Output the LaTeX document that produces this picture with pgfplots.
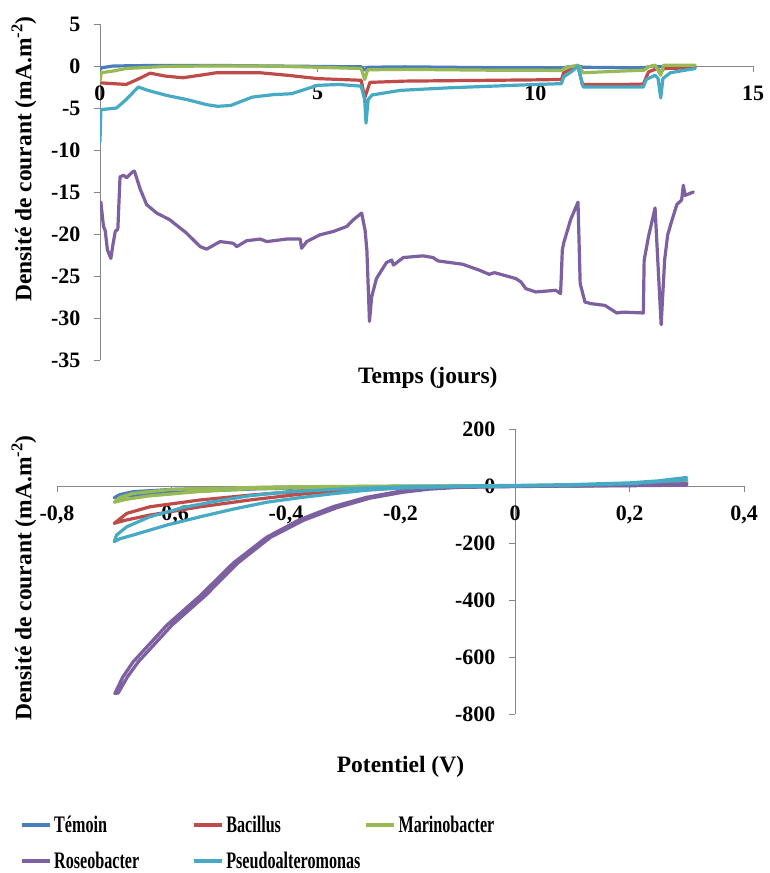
\documentclass[border=0pt]{standalone}
\usepackage{fontspec}
\setmainfont{Liberation Serif}
\newfontfamily\legfont{Liberation Serif}[FakeStretch=0.68]
\usepackage{pgfplots}
\pgfplotsset{compat=1.18}
\definecolor{cT}{HTML}{4A7EBB}
\definecolor{cB}{HTML}{BE4B48}
\definecolor{cM}{HTML}{98B954}
\definecolor{cR}{HTML}{7D60A0}
\definecolor{cP}{HTML}{46AAC5}
\definecolor{axgray}{HTML}{868686}
\pgfplotsset{
  common/.style={
    scale only axis, enlargelimits=false,
    axis lines=middle, axis line style={-,draw=axgray,line width=0.9pt},
    tick align=outside, major tick length=6pt,
    tick style={draw=axgray,line width=0.9pt},
    minor tick num=0,
    hide obscured x ticks=false, hide obscured y ticks=false,
    tick label style={font=\bfseries\fontsize{22}{24}\selectfont},
    xticklabel style={yshift=-10pt},
    yticklabel style={xshift=-10pt},
    /pgf/number format/assume math mode=true,
    /pgf/number format/use comma,
  },
  ln/.style={line width=3.2pt, line join=round, line cap=round},
}
\begin{document}
\begin{tikzpicture}
\useasboundingbox (0pt,0pt) rectangle (769pt,-873pt);
% ---------- top chart ----------
\begin{axis}[common,
  at={(100pt,-360pt)}, anchor=south west, width=653pt, height=336pt,
  xmin=0, xmax=15, ymin=-35, ymax=5,
  xtick={0,5,10,15}, ytick={-35,-30,-25,-20,-15,-10,-5,0,5},
  xlabel={Temps (jours)},
  ylabel={Densité de courant (mA.m\textsuperscript{-2})},
  every axis x label/.style={at={(axis description cs:0.502,0)},anchor=base,yshift=-23pt,font=\bfseries\fontsize{23.5}{26}\selectfont},
  every axis y label/.style={at={(axis description cs:-0.1164,0.598)},rotate=90,anchor=center,font=\bfseries\fontsize{23.5}{26}\selectfont},
]
\addplot[ln,cT] coordinates {(0,-0.4) (0.05,-0.2) (0.3,0) (1,0.05) (2,0.05) (3,0.05) (4,0) (5,-0.05) (6.0,-0.1) (6.08,-0.5) (6.15,-0.15) (7,-0.1) (8,-0.15) (9,-0.2) (10,-0.2) (10.6,-0.25) (10.75,-0.1) (10.98,0) (11.1,-0.15) (12,-0.2) (12.5,-0.2) (12.7,0) (12.88,-0.1) (12.95,0) (13.67,0)};
\addplot[ln,cB] coordinates {(0,-2.0) (0.3,-2.1) (0.6,-2.2) (0.9,-1.5) (1.15,-0.85) (1.5,-1.2) (1.9,-1.4) (2.3,-1.1) (2.68,-0.8) (3.67,-0.8) (4.3,-1.1) (5.0,-1.5) (6.0,-1.7) (6.08,-3.8) (6.2,-1.95) (7,-1.8) (8,-1.75) (9,-1.7) (10,-1.65) (10.6,-1.6) (10.65,-0.8) (10.98,0) (11.08,-2.2) (12,-2.2) (12.48,-2.15) (12.6,-0.7) (12.8,-0.3) (12.88,-0.8) (12.95,-0.3) (13.67,-0.2)};
\addplot[ln,cM] coordinates {(0,-1.8) (0.03,-0.8) (0.3,-0.6) (0.6,-0.3) (1.5,-0.05) (2.5,0) (3.8,0) (5,-0.15) (6.0,-0.3) (6.08,-1.6) (6.15,-0.45) (7,-0.4) (8,-0.45) (9,-0.5) (10,-0.5) (10.6,-0.55) (10.7,-0.2) (10.98,0.1) (11.1,-0.8) (12,-0.6) (12.5,-0.5) (12.6,-0.1) (12.75,0.1) (12.88,-1.1) (12.95,0.1) (13.67,0.1)};
\addplot[ln,cR] coordinates {(0.02,-16.2) (0.08,-19.1) (0.12,-19.6) (0.17,-21.9) (0.25,-22.9) (0.29,-21.5) (0.35,-19.7) (0.41,-19.4) (0.46,-13.2) (0.54,-13.0) (0.61,-13.3) (0.75,-12.6) (0.79,-12.5) (0.92,-14.6) (1.07,-16.5) (1.3,-17.5) (1.6,-18.3) (1.99,-19.9) (2.3,-21.5) (2.45,-21.8) (2.76,-20.9) (3.06,-21.1) (3.14,-21.5) (3.37,-20.8) (3.68,-20.6) (3.83,-20.9) (4.29,-20.6) (4.6,-20.6) (4.63,-21.7) (4.75,-20.9) (5.05,-20.1) (5.36,-19.7) (5.67,-19.1) (5.82,-18.3) (6.01,-17.5) (6.09,-19.6) (6.13,-21.9) (6.19,-30.4) (6.24,-27.5) (6.35,-25.3) (6.58,-23.4) (6.7,-23.1) (6.74,-23.7) (6.97,-22.8) (7.42,-22.6) (7.65,-22.8) (7.76,-23.2) (8.33,-23.6) (8.71,-24.3) (8.94,-24.8) (9.06,-24.6) (9.55,-25.3) (9.67,-25.7) (9.78,-26.5) (10.01,-26.9) (10.47,-26.7) (10.58,-27.1) (10.62,-21.9) (10.65,-21.1) (10.81,-18.3) (10.98,-16.2) (11.03,-25.9) (11.14,-28.1) (11.29,-28.3) (11.6,-28.5) (11.87,-29.4) (12.02,-29.3) (12.48,-29.4) (12.5,-23.1) (12.6,-20.3) (12.75,-16.9) (12.89,-30.8) (12.97,-23.1) (13.04,-20.1) (13.13,-18.5) (13.25,-16.5) (13.36,-15.95) (13.4,-14.2) (13.44,-15.4) (13.63,-15.0)};
\addplot[ln,cP] coordinates {(0,-9.0) (0.02,-5.2) (0.38,-5.0) (0.6,-4.0) (0.88,-2.5) (1.1,-2.9) (1.53,-3.5) (2.0,-4.0) (2.45,-4.6) (2.7,-4.8) (3.0,-4.7) (3.5,-3.7) (4.0,-3.4) (4.4,-3.3) (4.7,-2.8) (5.0,-2.3) (5.5,-2.2) (6.0,-2.4) (6.08,-4) (6.11,-6.8) (6.16,-4) (6.25,-3.45) (6.9,-2.9) (8,-2.6) (9,-2.4) (10,-2.2) (10.6,-2.1) (10.65,-1.3) (10.85,-0.6) (10.98,0) (11.05,-1.5) (11.1,-2.5) (12,-2.5) (12.48,-2.5) (12.55,-1.6) (12.75,-1.1) (12.82,-1.5) (12.88,-3.8) (12.93,-1.5) (13.1,-0.8) (13.67,-0.3)};
\end{axis}
% ---------- bottom chart ----------
\begin{axis}[common,
  at={(57pt,-714pt)}, anchor=south west, width=687pt, height=285pt,
  xmin=-0.8, xmax=0.4, ymin=-800, ymax=200,
  xtick={-0.8,-0.6,-0.4,-0.2,0,0.2,0.4}, ytick={-800,-600,-400,-200,0,200},
  xlabel={Potentiel (V)},
  ylabel={Densité de courant (mA.m\textsuperscript{-2})},
  every axis x label/.style={at={(axis description cs:0.5,0)},anchor=base,yshift=-58pt,font=\bfseries\fontsize{23.5}{26}\selectfont},
  every axis y label/.style={at={(axis description cs:-0.048,0.477)},rotate=90,anchor=center,font=\bfseries\fontsize{23.5}{26}\selectfont},
  legend columns=3,
  legend cell align=left,
  legend style={at={(axis description cs:-0.0539,-0.351)}, anchor=north west, draw=none, fill=none, inner sep=0pt, outer sep=0pt, row sep=12pt,
    font=\legfont\bfseries\fontsize{23.7}{26}\selectfont,
    nodes={inner sep=0pt, text height=18pt, text depth=6pt},
    /tikz/every odd column/.append style={column sep=3pt}},
  legend image code/.code={\draw[#1,line cap=butt] (0pt,1pt) -- (28pt,1pt);},
]
\addplot[ln,cT] coordinates {(0.3,10) (0.2,4) (0.1,1) (0,0) (-0.2,-1) (-0.4,-4) (-0.5,-7) (-0.6,-12) (-0.667,-20) (-0.69,-30) (-0.70,-41) (-0.68,-35) (-0.64,-28) (-0.55,-18) (-0.45,-10) (-0.3,-4) (-0.1,-1) (0.1,0) (0.2,2) (0.3,6)};
\addlegendentry{\makebox[138pt][l]{Témoin}}
\addplot[ln,cB] coordinates {(0.3,15) (0.2,6) (0.1,2) (0,0) (-0.2,-3) (-0.376,-18) (-0.463,-32) (-0.55,-49) (-0.638,-73) (-0.678,-96) (-0.70,-131) (-0.69,-125) (-0.678,-119) (-0.638,-102) (-0.55,-73) (-0.463,-49) (-0.376,-29) (-0.3,-15) (-0.2,-6) (0,-1) (0.1,1) (0.2,3) (0.3,10)};
\addlegendentry{\makebox[138pt][l]{Bacillus}}
\addplot[ln,cM] coordinates {(0.3,22) (0.2,8) (0.1,3) (0,1) (-0.2,0) (-0.4,-3) (-0.5,-7) (-0.6,-12) (-0.667,-26) (-0.69,-40) (-0.70,-57) (-0.68,-47) (-0.64,-35) (-0.6,-28) (-0.55,-19) (-0.46,-9) (-0.3,-3) (-0.1,0) (0.1,1) (0.2,5) (0.3,15)};
\addlegendentry{Marinobacter}
\addplot[ln,cR] coordinates {(0.3,8) (0.2,4) (0.1,2) (0,0) (-0.1,-3) (-0.15,-8) (-0.2,-18) (-0.26,-40) (-0.317,-72) (-0.376,-118) (-0.434,-180) (-0.492,-270) (-0.55,-385) (-0.608,-488) (-0.667,-617) (-0.685,-670) (-0.699,-728) (-0.693,-726) (-0.677,-670) (-0.658,-617) (-0.599,-488) (-0.541,-385) (-0.484,-270) (-0.427,-180) (-0.369,-120) (-0.311,-76) (-0.254,-43) (-0.196,-22) (-0.15,-11) (-0.1,-5) (0,-2) (0.1,0) (0.2,1) (0.3,3)};
\addlegendentry{\makebox[138pt][l]{Roseobacter}}
\addplot[ln,cP] coordinates {(0.3,30) (0.25,18) (0.2,11) (0.1,5) (0,2) (-0.1,0) (-0.2,-3) (-0.3,-10) (-0.405,-22) (-0.463,-34) (-0.521,-53) (-0.579,-75) (-0.638,-108) (-0.678,-143) (-0.696,-172) (-0.70,-195) (-0.69,-185) (-0.667,-172) (-0.608,-137) (-0.55,-108) (-0.492,-81) (-0.434,-57) (-0.376,-41) (-0.318,-27) (-0.26,-15) (-0.2,-7) (-0.1,-2) (0,0) (0.1,3) (0.2,8) (0.3,22)};
\addlegendentry{\makebox[138pt][l]{Pseudoalteromonas}}
\end{axis}
\end{tikzpicture}
\end{document}
